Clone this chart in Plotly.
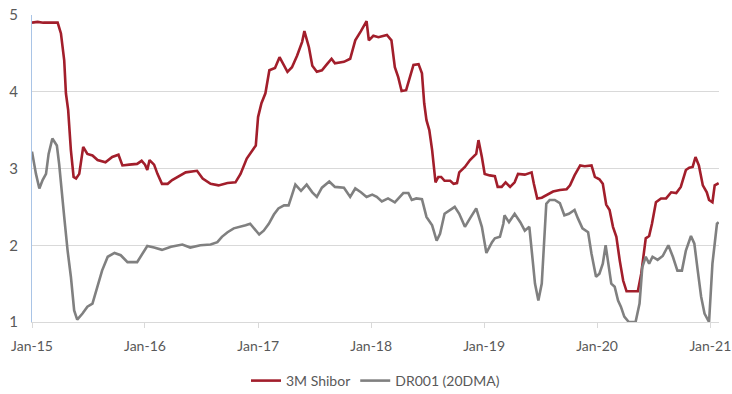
import pandas as pd
import plotly.graph_objects as go

# Decimal years since Jan-2015 and values (%)
shibor_t = [0.00, 0.05, 0.10, 0.227, 0.256, 0.285, 0.30, 0.32, 0.344, 0.368, 0.39, 0.418, 0.453, 0.49,
            0.535, 0.58, 0.65, 0.71, 0.765, 0.80, 0.86, 0.93, 0.97, 1.00, 1.02, 1.04, 1.08, 1.11, 1.15,
            1.20, 1.24, 1.30, 1.36, 1.46, 1.51, 1.58, 1.65, 1.73, 1.80, 1.845, 1.90, 1.98, 2.00, 2.03,
            2.065, 2.10, 2.15, 2.19, 2.26, 2.30, 2.345, 2.39, 2.41, 2.45, 2.48, 2.52, 2.565, 2.61, 2.65,
            2.68, 2.76, 2.815, 2.86, 2.91, 2.96, 2.98, 3.02, 3.065, 3.14, 3.18, 3.21, 3.24, 3.27, 3.31,
            3.345, 3.375, 3.42, 3.45, 3.47, 3.49, 3.515, 3.54, 3.57, 3.595, 3.62, 3.65, 3.70, 3.73, 3.76,
            3.78, 3.83, 3.875, 3.93, 3.95, 3.98, 4.005, 4.05, 4.095, 4.12, 4.155, 4.19, 4.23, 4.27, 4.30,
            4.36, 4.42, 4.44, 4.47, 4.51, 4.55, 4.61, 4.67, 4.73, 4.76, 4.80, 4.85, 4.89, 4.95, 4.98,
            5.02, 5.05, 5.08, 5.11, 5.14, 5.17, 5.20, 5.23, 5.26, 5.36, 5.39, 5.43, 5.46, 5.485, 5.52,
            5.565, 5.61, 5.655, 5.70, 5.74, 5.785, 5.815, 5.845, 5.87, 5.90, 5.935, 5.97, 5.99, 6.02,
            6.04, 6.075]
shibor_v = [4.90, 4.91, 4.90, 4.90, 4.76, 4.41, 3.98, 3.76, 3.24, 2.89, 2.87, 2.93, 3.28, 3.19,
            3.17, 3.11, 3.08, 3.15, 3.18, 3.04, 3.05, 3.06, 3.10, 3.05, 2.98, 3.11, 3.05, 2.93, 2.80,
            2.80, 2.85, 2.90, 2.95, 2.97, 2.87, 2.80, 2.78, 2.81, 2.82, 2.93, 3.13, 3.30, 3.67, 3.85,
            3.98, 4.28, 4.31, 4.45, 4.26, 4.32, 4.47, 4.65, 4.79, 4.58, 4.34, 4.26, 4.28, 4.36, 4.43,
            4.37, 4.39, 4.43, 4.67, 4.79, 4.92, 4.67, 4.73, 4.71, 4.74, 4.67, 4.32, 4.19, 4.01, 4.02,
            4.19, 4.35, 4.36, 4.24, 3.85, 3.63, 3.50, 3.24, 2.82, 2.89, 2.89, 2.84, 2.84, 2.80, 2.81,
            2.95, 3.02, 3.11, 3.19, 3.37, 3.15, 2.93, 2.91, 2.90, 2.76, 2.76, 2.82, 2.76, 2.82, 2.93,
            2.92, 2.95, 2.80, 2.61, 2.62, 2.65, 2.70, 2.72, 2.73, 2.78, 2.91, 3.04, 3.03, 3.04, 2.89,
            2.86, 2.80, 2.53, 2.46, 2.24, 2.11, 1.80, 1.54, 1.40, 1.40, 1.63, 2.09, 2.12, 2.28, 2.56,
            2.61, 2.61, 2.69, 2.68, 2.76, 2.98, 3.01, 3.02, 3.15, 3.04, 2.78, 2.69, 2.59, 2.56,
            2.78, 2.81]

dr001_t = [0.00, 0.035, 0.065, 0.094, 0.124, 0.147, 0.18, 0.22, 0.24, 0.265, 0.285, 0.315, 0.344,
           0.373, 0.40, 0.447, 0.49, 0.535, 0.58, 0.62, 0.67, 0.73, 0.785, 0.845, 0.93, 0.98, 1.02,
           1.08, 1.15, 1.23, 1.33, 1.40, 1.49, 1.58, 1.64, 1.68, 1.73, 1.785, 1.845, 1.89, 1.93, 1.98,
           2.01, 2.05, 2.095, 2.14, 2.18, 2.23, 2.27, 2.295, 2.33, 2.38, 2.43, 2.48, 2.52, 2.565, 2.63,
           2.68, 2.76, 2.815, 2.86, 2.91, 2.96, 3.01, 3.05, 3.095, 3.15, 3.21, 3.285, 3.33, 3.36, 3.40,
           3.45, 3.49, 3.54, 3.58, 3.61, 3.65, 3.70, 3.74, 3.78, 3.83, 3.875, 3.93, 3.98, 4.02, 4.07,
           4.095, 4.14, 4.17, 4.18, 4.22, 4.27, 4.32, 4.36, 4.40, 4.43, 4.45, 4.48, 4.51, 4.53, 4.55,
           4.58, 4.625, 4.67, 4.71, 4.75, 4.80, 4.83, 4.87, 4.92, 4.95, 4.99, 5.02, 5.05, 5.075, 5.095,
           5.125, 5.155, 5.185, 5.21, 5.24, 5.28, 5.34, 5.375, 5.40, 5.43, 5.46, 5.49, 5.535, 5.58,
           5.63, 5.67, 5.71, 5.75, 5.785, 5.83, 5.86, 5.89, 5.92, 5.95, 5.99, 6.02, 6.06, 6.075]
dr001_v = [3.22, 2.93, 2.74, 2.85, 2.93, 3.19, 3.39, 3.30, 3.06, 2.72, 2.37, 1.93, 1.59,
           1.15, 1.03, 1.11, 1.20, 1.24, 1.46, 1.67, 1.85, 1.90, 1.87, 1.78, 1.78, 1.89, 1.99,
           1.97, 1.94, 1.98, 2.01, 1.97, 2.00, 2.01, 2.04, 2.11, 2.17, 2.22, 2.24, 2.26, 2.28, 2.19,
           2.14, 2.19, 2.28, 2.40, 2.48, 2.52, 2.52, 2.63, 2.79, 2.71, 2.79, 2.69, 2.63, 2.75, 2.83,
           2.76, 2.75, 2.63, 2.74, 2.69, 2.63, 2.66, 2.63, 2.57, 2.61, 2.56, 2.68, 2.68, 2.59, 2.61,
           2.60, 2.37, 2.26, 2.06, 2.15, 2.41, 2.46, 2.50, 2.41, 2.24, 2.35, 2.48, 2.24, 1.90, 2.04,
           2.09, 2.11, 2.28, 2.39, 2.30, 2.41, 2.30, 2.19, 2.24, 1.80, 1.50, 1.28, 1.50, 2.02, 2.54,
           2.59, 2.59, 2.55, 2.39, 2.41, 2.46, 2.35, 2.22, 2.17, 1.89, 1.59, 1.63, 1.76, 2.00, 1.80,
           1.50, 1.46, 1.28, 1.20, 1.07, 1.00, 1.00, 1.24, 1.72, 1.85, 1.76, 1.85, 1.81, 1.86,
           2.00, 1.85, 1.67, 1.67, 1.93, 2.12, 2.02, 1.67, 1.33, 1.11, 1.00, 1.76, 2.28, 2.30]

tick_dates = ["2015-01-01", "2016-01-01", "2017-01-01", "2018-01-01", "2019-01-01", "2020-01-01", "2021-01-01"]
tick_labels = ["Jan-15", "Jan-16", "Jan-17", "Jan-18", "Jan-19", "Jan-20", "Jan-21"]
y_ticks = [1, 2, 3, 4, 5]

base = pd.Timestamp("2015-01-01")
def to_dates(ts):
    return [base + pd.to_timedelta(t * 365.25, unit="D") for t in ts]

fig = go.Figure()
fig.add_trace(go.Scatter(x=to_dates(shibor_t), y=shibor_v, mode="lines", name="3M Shibor",
                         line=dict(color="#A21E2B", width=2.6)))
fig.add_trace(go.Scatter(x=to_dates(dr001_t), y=dr001_v, mode="lines", name="DR001 (20DMA)",
                         line=dict(color="#808080", width=2.6)))

font_family = "Lato, 'Open Sans', sans-serif"
fig.update_layout(
    width=732, height=394,
    margin=dict(l=32, r=13, t=15, b=72, autoexpand=False),
    paper_bgcolor="white", plot_bgcolor="white",
    font=dict(family=font_family, size=14, color="#595959"),
    showlegend=True,
    legend=dict(orientation="h", x=0.5, xanchor="center",
                yref="container", y=0.033, yanchor="middle",
                font=dict(size=14, color="#595959"), itemwidth=30, tracegroupgap=0),
    xaxis=dict(
        range=[pd.Timestamp("2015-01-01"), pd.Timestamp("2021-01-29")],
        tickvals=tick_dates, ticktext=tick_labels,
        ticks="outside", ticklen=5, tickcolor="#D9D9D9",
        showgrid=False, showline=True, linecolor="#D9D9D9", linewidth=1, zeroline=False,
        ticklabelstandoff=6, automargin=False,
        tickfont=dict(size=14, color="#595959"),
    ),
    yaxis=dict(
        range=[1, 5], tickvals=y_ticks,
        showgrid=True, gridcolor="#D9D9D9", gridwidth=1,
        showline=True, linecolor="#A9C4E6", linewidth=1,
        zeroline=False, ticks="", ticklabelstandoff=10, automargin=False,
        tickfont=dict(size=15, color="#595959"),
    ),
)

fig.write_html("out.html")
